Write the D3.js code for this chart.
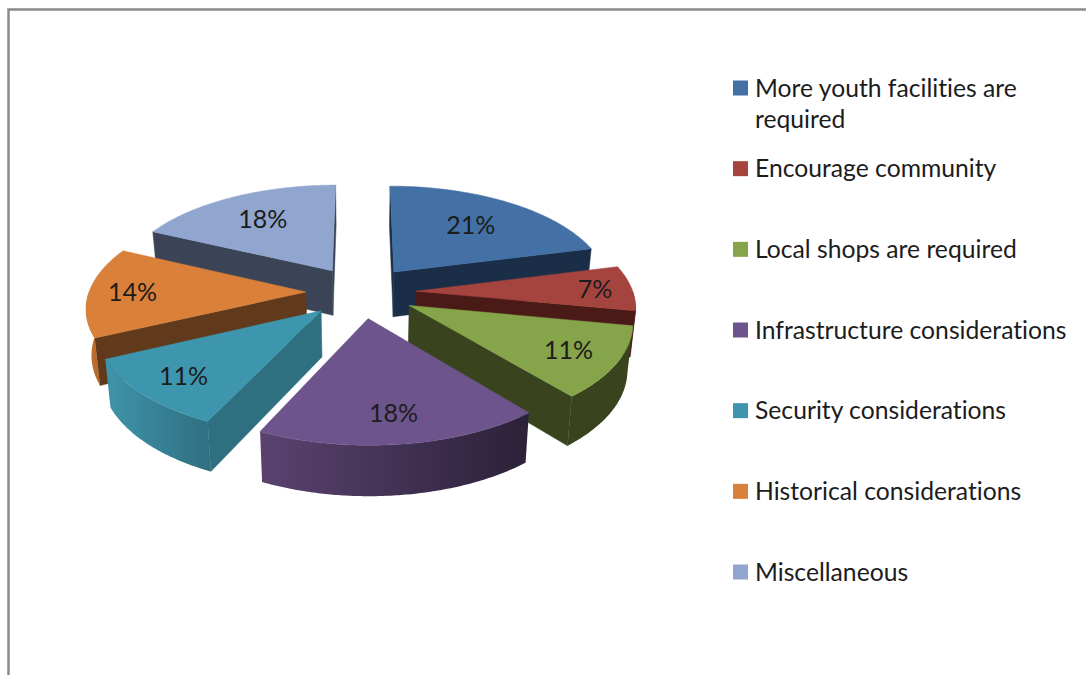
<!DOCTYPE html>
<html>
<head>
<meta charset="utf-8">
<title>Survey responses</title>
<script src="https://cdn.jsdelivr.net/npm/d3@7"></script>
<style>
html, body { margin: 0; padding: 0; background: #fff; }
svg { display: block; }
text { font-family: Lato, "Noto Sans", sans-serif; fill: #1c1c1c; font-variant-ligatures: none; }
</style>
</head>
<body>
<svg id="chart" width="1086" height="675"></svg>
<script>
// Survey answers, in the order they run clockwise from twelve o'clock
const categories = [
  ["More youth facilities are", "required"],
  ["Encourage community"],
  ["Local shops are required"],
  ["Infrastructure considerations"],
  ["Security considerations"],
  ["Historical considerations"],
  ["Miscellaneous"]
];
const shares = [21, 7, 11, 18, 11, 14, 18];

// Face colours: top, cut walls, outer rim left and right of the gradient
const topColors  = ["#4371a6", "#a5433f", "#86a44a", "#6e548d", "#3d96ae", "#d9803a", "#91a6ce"];
const wallColors = ["#1b2e48", "#4a1a17", "#39441e", "#2d2239", "#2e6f80", "#613a1b", "#3a4456"];
const rimLeft    = ["#1b2e48", "#4a1a17", "#39441e", "#5a4370", "#3f94aa", "#c8752f", "#3a4456"];
const rimRight   = ["#1b2e48", "#4a1a17", "#39441e", "#2b2138", "#2f6f80", "#b0662a", "#3a4456"];

// Where each percentage sits along its slice, as a fraction of the radius
const labelReach = [0.65, 0.83, 0.78, 0.78, 0.79, 0.80, 0.68];

// Pie geometry
const centerX = 361, centerY = 292;
const radius = 217, explode = 55;
const tilt = 0.471, viewDistance = 1641;

const svg = d3.select("#chart");
const defs = svg.append("defs");

// Top plane of the pie, seen in perspective from the front
function project(u, v) {
  const s = 1 / (1 - v / viewDistance);
  return [centerX + u * s, centerY + tilt * v * s, v];
}
// The same point on the lower plane of the pie
function lower(p) {
  return [centerX + (p[0] - centerX) * 0.98, p[1] + 45.5 + 0.02 * p[2], p[2]];
}

const pie = d3.pie().sort(null).startAngle(0).endAngle(2 * Math.PI);
const arcs = pie(shares).map((d, i) => {
  const mid = (d.startAngle + d.endAngle) / 2;
  return {
    i, start: d.startAngle, end: d.endAngle, mid,
    du: explode * Math.sin(mid),
    dv: -explode * Math.cos(mid)
  };
});

function onDisc(a, angle, r) {
  return project(a.du + r * Math.sin(angle), a.dv - r * Math.cos(angle));
}
function rimPoints(a, from, to) {
  const n = Math.max(2, Math.ceil((to - from) / 0.01));
  return d3.range(n + 1).map(k => onDisc(a, from + (to - from) * k / n, radius));
}

const outline = d3.line();
const poly = pts => outline(pts.map(p => [p[0], p[1]])) + "Z";

// A cut wall shows only when its lower edge falls outside the top face
function wallVisible(apex, rimPoint, inner) {
  const ex = rimPoint[0] - apex[0], ey = rimPoint[1] - apex[1];
  const side = ex * (inner[1] - apex[1]) - ey * (inner[0] - apex[0]);
  return ex * side < 0;
}

// Paint from the back of the pie to the front
const ordered = arcs.slice().sort((a, b) => d3.ascending(-Math.cos(a.mid), -Math.cos(b.mid)));

const slices = svg.append("g").attr("class", "slices");
ordered.forEach(a => {
  const g = slices.append("g");
  const apex = onDisc(a, 0, 0);
  const inner = onDisc(a, a.mid, radius * 0.5);
  const edge = [rimPoints(a, a.start, a.start)[0], rimPoints(a, a.end, a.end)[0]];

  edge.forEach(rimPoint => {
    if (!wallVisible(apex, rimPoint, inner)) return;
    const pts = [apex, rimPoint, lower(rimPoint), lower(apex)];
    g.append("path").attr("d", poly(pts))
      .attr("fill", wallColors[a.i]).attr("stroke", wallColors[a.i]).attr("stroke-width", 0.5);
  });

  const from = Math.max(a.start, Math.PI / 2), to = Math.min(a.end, 1.5 * Math.PI);
  if (to > from) {
    const top = rimPoints(a, from, to);
    const id = "rim" + a.i;
    const grad = defs.append("linearGradient").attr("id", id);
    grad.append("stop").attr("offset", 0).attr("stop-color", rimLeft[a.i]);
    grad.append("stop").attr("offset", 1).attr("stop-color", rimRight[a.i]);
    g.append("path").attr("d", poly(top.concat(top.map(lower).reverse())))
      .attr("fill", `url(#${id})`);
  }

  const face = [apex].concat(rimPoints(a, a.start, a.end));
  g.append("path").attr("d", poly(face))
    .attr("fill", topColors[a.i]).attr("stroke", topColors[a.i]).attr("stroke-width", 0.5);
});

// Percentages on the top faces
svg.append("g").attr("class", "labels").selectAll("text")
  .data(arcs).join("text")
  .attr("text-anchor", "middle")
  .attr("font-size", 25)
  .attr("x", a => onDisc(a, a.mid, radius * labelReach[a.i])[0])
  .attr("y", a => onDisc(a, a.mid, radius * labelReach[a.i])[1] + 9)
  .text(a => shares[a.i] + "%");

// Legend column
const legendRow = d3.scaleLinear().domain([0, categories.length - 1]).range([88, 572]);
const legend = svg.append("g").attr("class", "legend");
const rows = legend.selectAll("g").data(categories).join("g")
  .attr("transform", (d, i) => `translate(733,${legendRow(i)})`);
rows.append("rect")
  .attr("x", 0).attr("y", -7.5).attr("width", 15).attr("height", 15)
  .attr("fill", (d, i) => topColors[i]);
rows.each(function (lines) {
  d3.select(this).selectAll("text").data(lines).join("text")
    .attr("x", 22)
    .attr("y", (t, k) => 8.5 + k * 31)
    .attr("font-size", 24.7)
    .text(t => t);
});

// Frame: the top and left edges of the chart area
svg.append("path")
  .attr("d", "M8.5,675V9.5H1086")
  .attr("fill", "none").attr("stroke", "#8a8a8a").attr("stroke-width", 2.5);
</script>
</body>
</html>
